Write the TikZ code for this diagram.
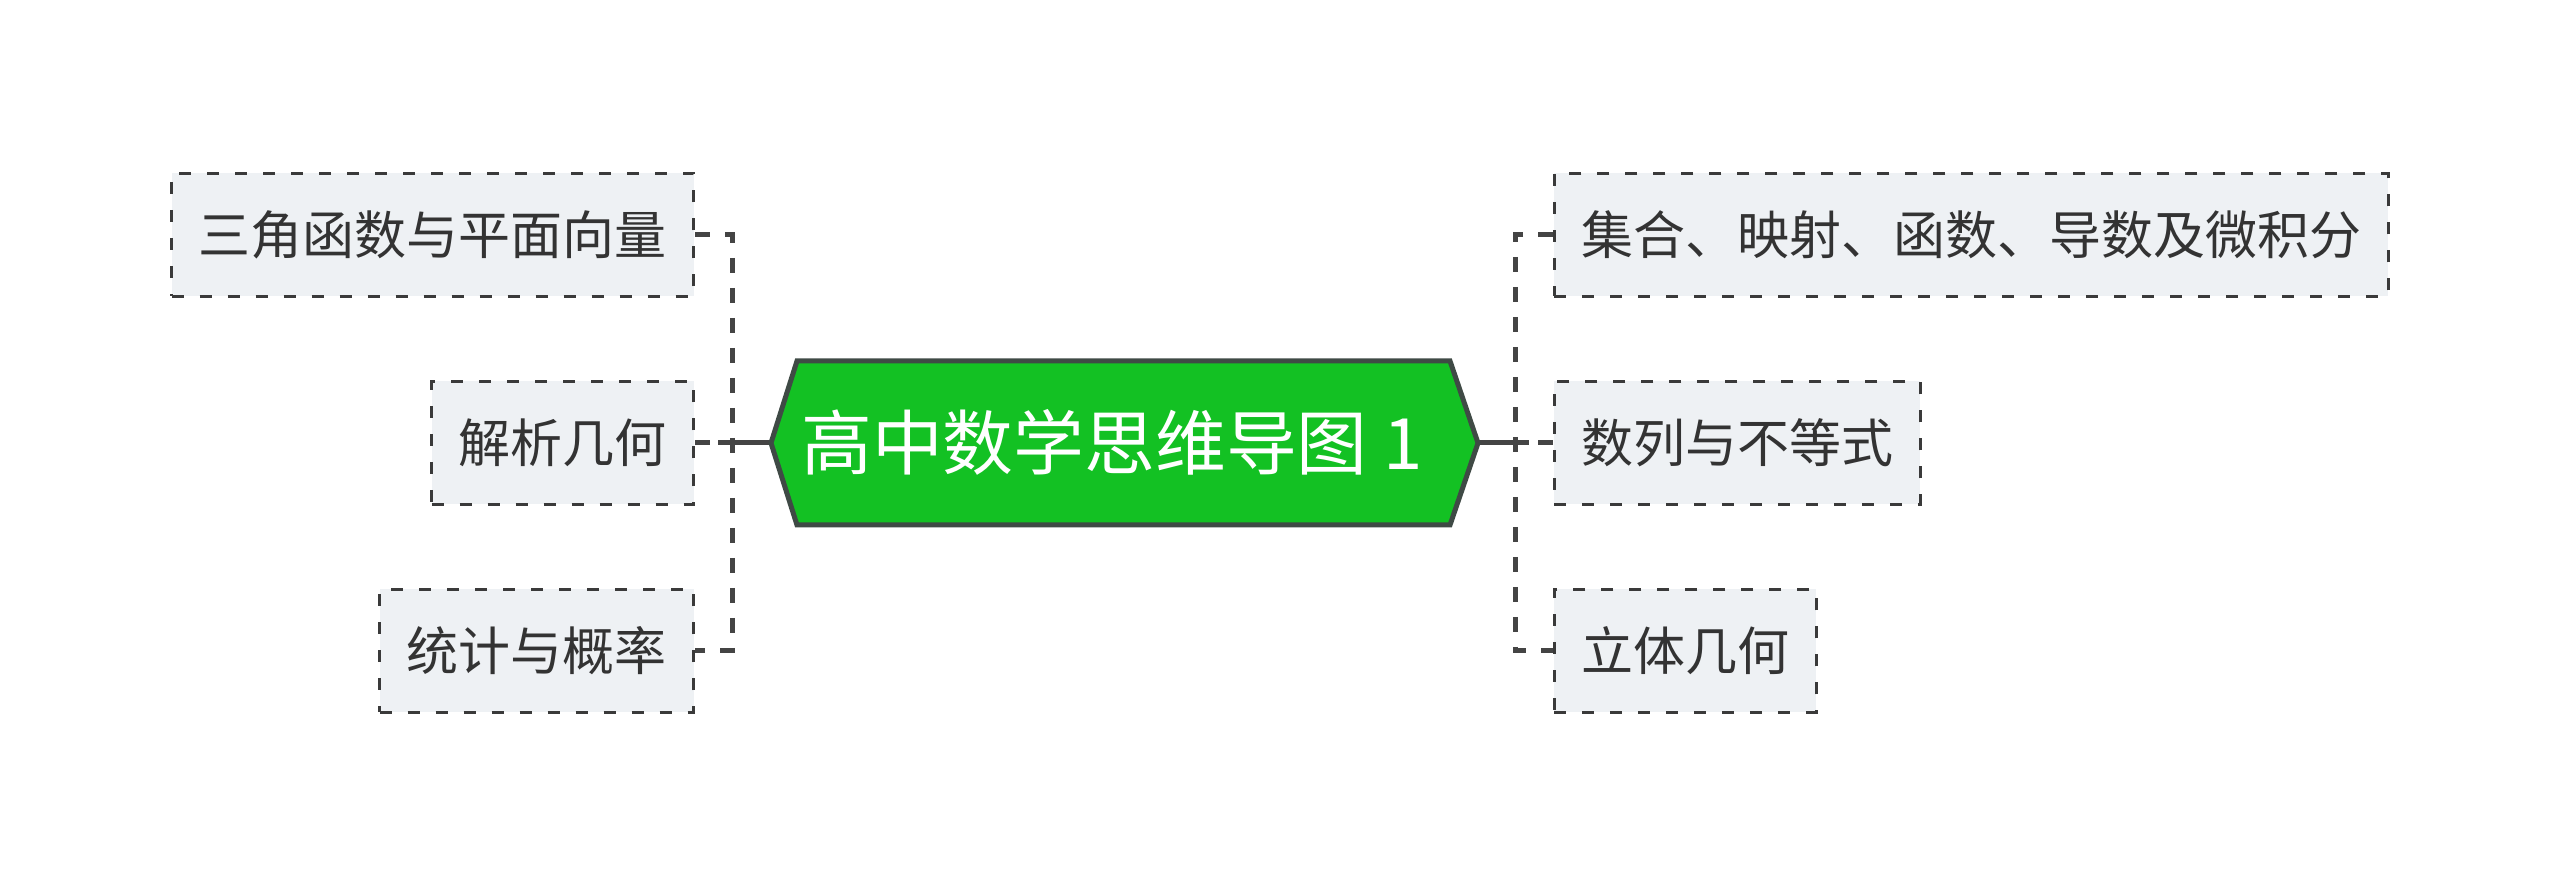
\documentclass[tikz,border=0pt]{standalone}
\usepackage{fontspec}
\setmainfont{Noto Sans CJK SC}
\definecolor{boxfill}{HTML}{EEF1F4}
\definecolor{boxline}{HTML}{3A3A3A}
\definecolor{connline}{HTML}{444444}
\definecolor{txt}{HTML}{333333}
\definecolor{hexfill}{HTML}{13C123}
\definecolor{hexline}{HTML}{3F4A45}
\begin{document}
\begin{tikzpicture}[x=0.5pt,y=-0.5pt,
  box/.style={draw=boxline, fill=boxfill, line width=1.4pt,
    dash pattern=on 6pt off 8pt, minimum height=61.5pt,
    inner xsep=13.5pt, inner ysep=0pt,
    font=\fontsize{26pt}{30pt}\selectfont, text=txt,
    text height=22.9pt, text depth=3.1pt},
  lbox/.style={box, anchor=east},
  rbox/.style={box, anchor=west},
  conn/.style={draw=connline, line width=2.5pt, dash pattern=on 7.5pt off 7.5pt},
  solidconn/.style={draw=connline, line width=2.5pt},
  hexa/.style={draw=hexline, fill=hexfill, line width=2.5pt, line join=miter},
  centertext/.style={text=white, font=\fontsize{35.4pt}{40pt}\selectfont,
    inner sep=0pt, text height=31.2pt, text depth=4.2pt},
]
\useasboundingbox (0,0) rectangle (2560,886);

% junction coordinates
\coordinate (jl) at (732,443);
\coordinate (jr) at (1515,443);
\coordinate (sl) at (718,443);
\coordinate (sr) at (1529,443);
\coordinate (hl) at (771,443);
\coordinate (hr) at (1478,443);

% boxes
\node[lbox] (b1) at (695,235) {三角函数与平面向量};
\node[lbox] (b2) at (695,443) {解析几何};
\node[lbox] (b3) at (695,651) {统计与概率};
\node[rbox] (b4) at (1553,235) {集合、映射、函数、导数及微积分};
\node[rbox] (b5) at (1553,443) {数列与不等式};
\node[rbox] (b6) at (1553,651) {立体几何};

% connectors
\draw[conn] (b1.east) -| (jl) |- (b3.east);
\draw[conn] (b2.east) -- (jl);
\draw[conn] (b4.west) -| (jr) |- (b6.west);
\draw[conn] (b5.west) -- (jr);
\draw[solidconn] (hl) -- (sl);
\draw[solidconn] (hr) -- (sr);

% central hexagon
\draw[hexa] (hl) -- (797,361) -- (1450,361) -- (hr) -- (1450,525) -- (797,525) -- cycle;
\node[centertext] (c) at (1112,443) {高中数学思维导图 1};
\end{tikzpicture}
\end{document}
